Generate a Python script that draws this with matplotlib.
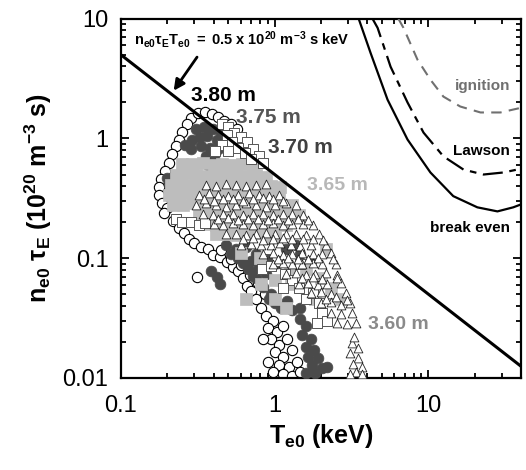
import numpy as np
import matplotlib
matplotlib.use('Agg')
import matplotlib.pyplot as plt
from matplotlib.ticker import LogLocator, FuncFormatter, NullFormatter

plt.rcParams['font.family'] = 'Liberation Sans'
plt.rcParams['mathtext.fontset'] = 'custom'
plt.rcParams['mathtext.rm'] = 'Liberation Sans'
plt.rcParams['mathtext.bf'] = 'Liberation Sans:bold'
plt.rcParams['mathtext.it'] = 'Liberation Sans:italic'

# Fusion criteria curves (T keV, n tau 1e20 m^-3 s)
be_T = [3.5, 4.2, 5.42, 7.31, 10.3, 14.5, 20.8, 28.1, 35.6, 39.6]
be_n = [10.2, 5.2, 2.11, 0.98, 0.52, 0.33, 0.266, 0.246, 0.266, 0.28]
law_T = [4.33, 4.67, 5.67, 7.31, 9.29, 12.5, 16.9, 22.8, 30.7, 37.8, 40.0]
law_n = [10.0, 8.4, 3.98, 2.0, 1.12, 0.71, 0.55, 0.50, 0.52, 0.55, 0.56]
ign_T = [6.38, 6.88, 8.49, 10.3, 12.5, 16.1, 21.8, 29.4, 39.6]
ign_n = [10.0, 8.4, 4.55, 3.1, 2.24, 1.85, 1.65, 1.65, 1.8]

# n tau T = 0.5 line
line_T = [0.1, 40.0]
line_n = [5.0, 0.0125]

# open circles
oc_T = [0.285, 0.317, 0.35, 0.39, 0.43, 0.47, 0.27, 0.25, 0.238, 0.228, 0.214, 0.205,
        0.193, 0.182, 0.177, 0.177, 0.185, 0.2, 0.218, 0.218, 0.238, 0.256, 0.276, 0.30,
        0.331, 0.367, 0.396, 0.44, 0.488, 0.533, 0.58, 0.31, 0.62, 0.66, 0.70, 0.76,
        0.81, 0.875, 0.97, 0.91, 1.03, 1.14, 0.94, 1.07, 1.21, 1.0, 1.14, 1.3, 0.90,
        1.06, 1.23, 1.39, 0.97, 1.13, 1.3, 1.47, 0.84, 0.52, 0.57, 0.19, 0.21,
        0.45, 0.52, 0.60, 0.69, 0.78, 0.86]
oc_n = [1.49, 1.64, 1.67, 1.61, 1.52, 1.41, 1.31, 1.14, 0.98, 0.86, 0.74, 0.63,
        0.53, 0.46, 0.39, 0.335, 0.29, 0.265, 0.31, 0.203, 0.18, 0.162, 0.145, 0.133,
        0.123, 0.12, 0.107, 0.103, 0.093, 0.084, 0.078, 0.07, 0.068, 0.059, 0.053, 0.046,
        0.038, 0.033, 0.030, 0.026, 0.024, 0.027, 0.021, 0.019, 0.021, 0.0163, 0.015, 0.017,
        0.0137, 0.0128, 0.0124, 0.0137, 0.0111, 0.0107, 0.0104, 0.0113, 0.021, 1.31, 1.19, 0.24, 0.39,
        0.118, 0.098, 0.088, 0.073, 0.062, 0.05]

# dark grey filled circles
dc_T = [0.307, 0.345, 0.396, 0.446, 0.325, 0.36, 0.42, 0.47, 0.331, 0.38, 0.43, 0.356,
        0.40, 0.285, 0.29, 0.26, 0.205, 0.211, 0.2, 0.48, 0.56, 0.65, 0.52, 0.75,
        0.84, 0.94, 1.05, 0.70, 0.78, 0.88, 0.76, 0.84, 0.94, 1.18, 1.47, 1.71, 1.37,
        1.47, 1.6, 1.5, 1.71, 1.6, 1.8, 1.65, 1.9, 1.76, 2.04, 1.84, 2.2, 1.59, 1.47,
        1.3, 0.384, 0.42, 0.44, 0.62, 0.67, 0.72, 0.58, 0.92, 1.0, 1.1, 1.2, 0.37, 0.41]
dc_n = [1.19, 1.24, 1.19, 1.11, 1.03, 1.04, 0.98, 0.94, 0.86, 0.84, 0.81, 0.72,
        0.69, 0.81, 0.98, 0.89, 0.41, 0.36, 0.47, 0.13, 0.12, 0.125, 0.109, 0.109,
        0.094, 0.103, 0.092, 0.094, 0.082, 0.074, 0.068, 0.058, 0.05, 0.12, 0.109, 0.094, 0.13,
        0.031, 0.027, 0.023, 0.021, 0.018, 0.017, 0.015, 0.0146, 0.0128, 0.012, 0.011, 0.0124,
        0.011, 0.038, 0.037, 0.078, 0.069, 0.061, 0.091, 0.082, 0.071, 0.1, 0.046, 0.042, 0.038,
        0.044, 0.6, 0.57]

# light grey squares
lg_T = [0.25, 0.29, 0.34, 0.40, 0.455, 0.53, 0.61, 0.72,
        0.228, 0.264, 0.307, 0.356, 0.414, 0.481, 0.558, 0.649, 0.753, 0.875,
        0.211, 0.245, 0.285, 0.331, 0.384, 0.446, 0.518, 0.602, 0.699, 0.81, 0.94, 1.09,
        0.205, 0.238, 0.276, 0.32, 0.372, 0.43, 0.5, 0.58, 0.68, 0.79, 0.92, 1.06,
        0.218, 0.253, 0.294, 0.34, 0.396, 0.46, 0.533, 0.62, 0.72, 0.84, 0.97, 1.13, 1.3,
        0.32, 0.372, 0.43, 0.5, 0.58, 0.68, 0.79, 0.92, 1.06, 1.23, 1.43,
        0.356, 0.414, 0.481, 0.558, 0.649, 0.753, 0.875, 1.01, 1.18,
        0.414, 0.481, 0.558, 0.649, 0.753, 0.875, 1.01,
        0.649, 0.81, 1.01, 1.27, 1.18, 1.84, 1.99, 2.31, 1.59, 2.68, 2.14,
        0.6, 0.8, 1.0, 1.25, 0.9]
lg_n = [0.61, 0.61, 0.62, 0.60, 0.61, 0.60, 0.61, 0.60,
        0.50, 0.51, 0.50, 0.49, 0.50, 0.51, 0.50, 0.49, 0.50, 0.48,
        0.41, 0.42, 0.41, 0.40, 0.41, 0.42, 0.41, 0.40, 0.41, 0.42, 0.40, 0.39,
        0.34, 0.34, 0.35, 0.34, 0.33, 0.34, 0.35, 0.34, 0.33, 0.34, 0.34, 0.33,
        0.28, 0.28, 0.29, 0.28, 0.27, 0.28, 0.29, 0.28, 0.27, 0.28, 0.28, 0.27, 0.28,
        0.232, 0.235, 0.23, 0.232, 0.236, 0.23, 0.232, 0.234, 0.23, 0.232, 0.228,
        0.192, 0.19, 0.195, 0.192, 0.19, 0.194, 0.192, 0.19, 0.188,
        0.159, 0.16, 0.157, 0.159, 0.162, 0.158, 0.155,
        0.046, 0.061, 0.046, 0.061, 0.038, 0.046, 0.068, 0.056, 0.082, 0.046, 0.12,
        0.11, 0.1, 0.066, 0.075, 0.13]

# open squares
os_T = [0.455, 0.5, 0.545, 0.6, 0.66, 0.72, 0.79, 0.49, 0.53, 0.58, 0.64, 0.7, 0.455,
        0.5, 0.41, 0.84, 0.228, 0.25, 0.285, 0.32, 0.35, 0.83, 0.94, 1.03, 1.16, 1.3,
        1.43, 1.59, 1.77, 1.93, 2.04, 2.2, 1.88, 0.91, 1.13, 1.47]
os_n = [1.31, 1.24, 1.11, 1.03, 0.93, 0.81, 0.72, 1.06, 0.94, 0.84, 0.75, 0.67, 0.89,
        0.78, 0.78, 0.63, 0.211, 0.2, 0.2, 0.19, 0.195, 0.082, 0.086, 0.094, 0.074, 0.066,
        0.056, 0.046, 0.051, 0.042, 0.035, 0.03, 0.029, 0.12, 0.056, 0.09]

# open triangles
tr_T = [0.356, 0.414, 0.481, 0.558, 0.649, 0.753, 0.875,
        0.32, 0.372, 0.43, 0.5, 0.58, 0.68, 0.79, 0.92, 1.06,
        0.307, 0.356, 0.414, 0.481, 0.558, 0.649, 0.753, 0.875, 1.01, 1.18, 1.37,
        0.34, 0.396, 0.46, 0.533, 0.62, 0.72, 0.84, 0.97, 1.13, 1.3, 1.52,
        0.4, 0.46, 0.533, 0.62, 0.72, 0.84, 0.97, 1.13, 1.3, 1.52, 1.77,
        0.481, 0.558, 0.649, 0.753, 0.875, 1.01, 1.18, 1.37, 1.59, 1.93,
        0.602, 0.699, 0.81, 0.94, 1.09, 1.27, 1.47, 1.71, 2.14,
        0.84, 0.97, 1.13, 1.3, 1.5, 1.77, 2.04, 2.31,
        0.97, 1.13, 1.3, 1.5, 1.77, 2.04, 2.49,
        1.18, 1.37, 1.59, 1.84, 2.14, 2.56,
        1.43, 1.65, 1.9, 2.2, 2.68,
        1.71, 1.99, 2.31, 2.89,
        1.99, 2.31, 2.68, 3.11,
        2.31, 2.68, 3.2,
        2.56, 2.95, 3.36,
        3.2, 3.5, 3.11, 3.5, 3.25, 3.7, 3.36, 3.7, 3.11, 3.3,
        0.345, 0.40, 0.46, 0.533, 0.62, 0.72, 0.84, 0.97, 1.13,
        0.43, 0.5, 0.58, 0.67, 0.78, 0.9, 1.05, 1.22, 1.41, 1.64,
        0.62, 0.72, 0.84, 0.97, 1.13, 1.3, 1.52, 1.77, 2.06,
        1.05, 1.22, 1.41, 1.64, 1.9, 2.38,
        1.5, 1.77, 2.04, 2.56,
        2.14, 2.49, 2.95]
tr_n = [0.41, 0.40, 0.42, 0.41, 0.40, 0.41, 0.42,
        0.34, 0.35, 0.34, 0.33, 0.34, 0.35, 0.34, 0.33, 0.34,
        0.28, 0.29, 0.28, 0.27, 0.28, 0.29, 0.28, 0.27, 0.28, 0.29, 0.28,
        0.232, 0.228, 0.235, 0.232, 0.23, 0.236, 0.232, 0.228, 0.232, 0.235, 0.23,
        0.192, 0.19, 0.195, 0.192, 0.188, 0.192, 0.196, 0.19, 0.192, 0.194, 0.19,
        0.159, 0.16, 0.156, 0.159, 0.162, 0.158, 0.159, 0.16, 0.157, 0.159,
        0.13, 0.132, 0.128, 0.13, 0.133, 0.13, 0.127, 0.13, 0.13,
        0.109, 0.11, 0.107, 0.109, 0.111, 0.108, 0.109, 0.11,
        0.09, 0.091, 0.089, 0.09, 0.092, 0.09, 0.089,
        0.074, 0.075, 0.073, 0.074, 0.075, 0.073,
        0.061, 0.062, 0.06, 0.061, 0.062,
        0.051, 0.052, 0.05, 0.051,
        0.042, 0.043, 0.041, 0.042,
        0.035, 0.034, 0.035,
        0.029, 0.028, 0.029,
        0.0195, 0.0177, 0.016, 0.0146, 0.013, 0.0124, 0.0113, 0.0107, 0.0107, 0.022,
        0.31, 0.30, 0.315, 0.31, 0.30, 0.31, 0.32, 0.31, 0.30,
        0.211, 0.215, 0.208, 0.211, 0.214, 0.21, 0.211, 0.208, 0.212, 0.21,
        0.145, 0.147, 0.143, 0.145, 0.148, 0.144, 0.145, 0.146, 0.143,
        0.099, 0.1, 0.098, 0.099, 0.1, 0.098,
        0.068, 0.069, 0.067, 0.068,
        0.046, 0.047, 0.045]

# text labels
radius_labels = ['3.80 m', '3.75 m', '3.70 m', '3.65 m', '3.60 m']
radius_T = [0.285, 0.558, 0.91, 1.63, 4.07]
radius_n = [2.28, 1.5, 0.84, 0.406, 0.028]
radius_col = ['black', '#555555', '#404040', '#b8b8b8', '#8a8a8a']
radius_size = [15, 15, 15, 14, 14]

fig = plt.figure(figsize=(5.26, 4.70), dpi=100)
ax = fig.add_axes([0.230, 0.196, 0.7605, 0.764])

ax.scatter(oc_T, oc_n, s=55, marker='o', facecolor='white', edgecolor='black', linewidth=0.8, zorder=2)
ax.scatter(dc_T, dc_n, s=60, marker='o', facecolor='#4a4a4a', edgecolor='#4a4a4a', linewidth=0.5, zorder=3)
ax.scatter(lg_T, lg_n, s=75, marker='s', facecolor='#bdbdbd', edgecolor='#bdbdbd', linewidth=0.5, zorder=3)
ax.scatter(os_T, os_n, s=55, marker='s', facecolor='white', edgecolor='#555555', linewidth=0.7, zorder=4)
ax.scatter(tr_T, tr_n, s=40, marker='^', facecolor='white', edgecolor='#222222', linewidth=0.6, zorder=5)

ax.plot(line_T, line_n, color='black', lw=2.2, zorder=6)
ax.plot(be_T, be_n, color='black', lw=1.6, zorder=6)
ax.plot(law_T, law_n, color='black', lw=1.6, dashes=(9, 3, 3, 3), zorder=6)
ax.plot(ign_T, ign_n, color='#707070', lw=1.5, dashes=(5, 3.5), zorder=6)

ax.text(34, 2.77, 'ignition', ha='right', va='center', fontsize=11, fontweight='bold', color='#707070')
ax.text(34, 0.79, 'Lawson', ha='right', va='center', fontsize=11, fontweight='bold', color='black')
ax.text(34, 0.178, 'break even', ha='right', va='center', fontsize=11, fontweight='bold', color='black')

for lab, t, n, c, fs in zip(radius_labels, radius_T, radius_n, radius_col, radius_size):
    ax.text(t, n, lab, ha='left', va='center', fontsize=fs, fontweight='bold', color=c, zorder=7)

ax.text(0.1215, 6.68, r'$\mathbf{n_{e0}\tau_E T_{e0}\ =\ 0.5\ x\ 10^{20}\ m^{-3}\ s\ keV}$',
        ha='left', va='center', fontsize=10.5, color='black')
ax.annotate('', xy=(0.215, 2.4), xytext=(0.32, 5.0),
            arrowprops=dict(arrowstyle='-|>', color='black', lw=2, mutation_scale=16))

ax.set_xscale('log')
ax.set_yscale('log')
ax.set_xlim(0.1, 40)
ax.set_ylim(0.01, 10)

fmt = FuncFormatter(lambda v, p: '%g' % v)
ax.xaxis.set_major_formatter(fmt)
ax.yaxis.set_major_formatter(fmt)
ax.xaxis.set_minor_formatter(NullFormatter())
ax.yaxis.set_minor_formatter(NullFormatter())
ax.xaxis.set_minor_locator(LogLocator(base=10, subs=np.arange(2, 10)))
ax.yaxis.set_minor_locator(LogLocator(base=10, subs=np.arange(2, 10)))

ax.tick_params(which='both', direction='in', top=True, right=True, width=1.3)
ax.tick_params(which='major', length=6, labelsize=17)
ax.tick_params(which='minor', length=3.5)
ax.tick_params(axis='x', which='major', pad=12)
ax.tick_params(axis='y', which='major', pad=9)
for sp in ax.spines.values():
    sp.set_linewidth(1.6)

ax.set_xlabel(r'$\mathbf{T_{e0}}$ (keV)', fontsize=18, fontweight='bold', labelpad=4)
ax.set_ylabel(r'$\mathbf{n_{e0}\ \tau_E\ (10^{20}\ m^{-3}\ s)}$', fontsize=18, labelpad=6)

fig.savefig('out.png', dpi=100)
